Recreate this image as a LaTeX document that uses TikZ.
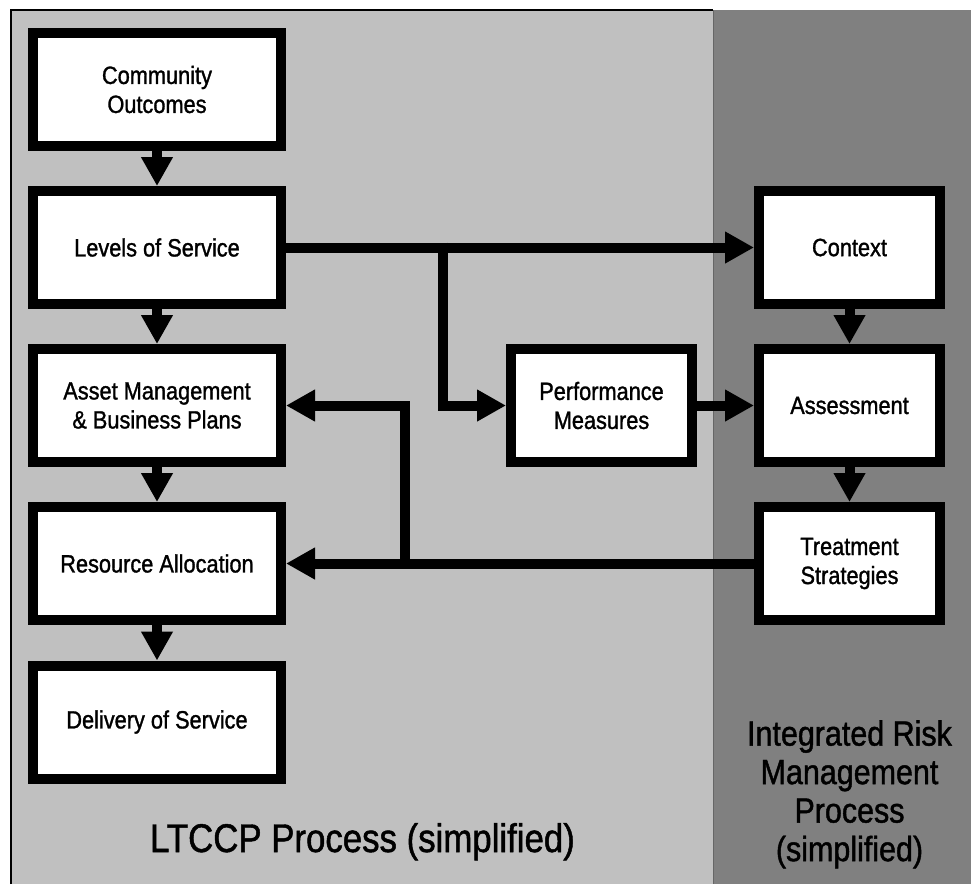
\documentclass[tikz,border=0pt]{standalone}
\usepackage{fontspec}
\setmainfont{Liberation Sans}[FakeStretch=0.87, FakeBold=1.2]
\usetikzlibrary{arrows.meta}

\definecolor{ltccpgrey}{HTML}{C0C0C0}
\definecolor{riskgrey}{HTML}{808080}

\begin{document}
\begin{tikzpicture}[x=1pt, y=-1pt]

      \tikzset{step box/.style={draw=black, fill=white, line width=10pt, minimum width=248pt, minimum height=113pt, align=center, inner sep=0pt, font=\fontsize{25}{29}\selectfont},
               risk box/.style={step box, minimum width=181pt},
               flow/.style={line width=10pt, line join=miter, -{Triangle[width=30pt, length=29pt]}}}
      \useasboundingbox (0,0) rectangle (971,884);
%% Backgrounds
      	\fill[ltccpgrey] (11,10) rectangle (713,884);
      	\draw[line width=1.5pt] (11,884) -- (11,10) -- (713,10);
      	\fill[riskgrey] (713,10) rectangle (971,884);
      	\draw[line width=1pt, black!60] (713,10) -- (713,884);
%% LTCCP steps
      	\node[step box] (co)  at (157,89.5)  {Community\\Outcomes};
      	\node[step box] (los) at (157,247.5) {Levels of Service};
      	\node[step box] (amp) at (157,405.5) {Asset Management\\\& Business Plans};
      	\node[step box] (ra)  at (157,563.5) {Resource Allocation};
      	\node[step box] (ds)  at (157,722)   {Delivery of Service};
%% Risk steps
      	\node[risk box] (ctx) at (849.5,247.5) {Context};
      	\node[risk box] (ass) at (849.5,405.5) {Assessment};
      	\node[risk box] (ts)  at (849.5,563.5) {Treatment\\Strategies};
      	\node[risk box] (pm)  at (601.5,405.5) {Performance\\Measures};
%% Junctions
      	\coordinate (top split) at (443,247.5);
      	\coordinate (back split) at (405,563.5);
%Edges
		\path [flow] (co) edge (los);
		\path [flow] (los) edge (amp);
		\path [flow] (amp) edge (ra);
		\path [flow] (ra) edge (ds);
		\path [flow] (ctx) edge (ass);
		\path [flow] (ass) edge (ts);
		\path [flow] (los) edge (ctx);
		\path [flow] (pm) edge (ass);
		\path [flow] (ts) edge (ra);
		\draw [flow] ([yshift=5pt]top split) -- (top split |- pm.west) -- (pm);
		\draw [flow] ([yshift=-5pt]back split) -- (back split |- amp.east) -- (amp);
%% Titles
      	\node[anchor=base, inner sep=0pt, font=\fontsize{40}{44}\selectfont] (ltccp) at (362.5,852) {LTCCP Process (simplified)};
      	\node[anchor=north, inner sep=0pt, align=center, font=\fontsize{35}{38.5}\selectfont] (irm) at (849.5,720) {Integrated Risk\\Management\\Process\\(simplified)};

	\end{tikzpicture}
\end{document}
